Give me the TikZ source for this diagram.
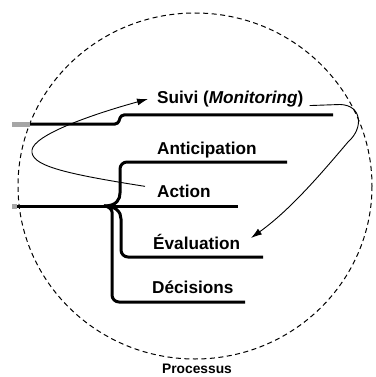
\documentclass[tikz,border=0pt]{standalone}
\usepackage{fontspec}
\setmainfont{Liberation Sans}
\usetikzlibrary{arrows.meta}
\begin{document}
\begin{tikzpicture}[x=1pt,y=-1pt,
  lbl/.style={font=\fontsize{17.2}{20}\selectfont\bfseries, inner sep=0pt, anchor=base west},
  branch/.style={line width=3pt, rounded corners=7pt},
  feed/.style={line width=5pt, gray!70},
  thinarr/.style={line width=0.9pt, -{Latex[length=11pt,width=7pt]}}]
\useasboundingbox (0,0) rectangle (375,377);
% process boundary
\draw[line width=1pt, dash pattern=on 5pt off 3.5pt] (195,186) ellipse [x radius=177, y radius=173];
% labels
\node[lbl] (suivi) at (157,104) {Suivi (\textit{Monitoring})};
\node[lbl] (antic) at (157,154) {Anticipation};
\node[lbl] (action) at (157,197.5) {Action};
\node[lbl] (eval) at (153,249) {Évaluation};
\node[lbl] (dec) at (152,293.5) {Décisions};
\node[font=\fontsize{13.8}{16}\selectfont\bfseries, inner sep=0pt, anchor=base] (proc) at (197,373) {Processus};
% coordinates
\coordinate (sin) at (12,124);
\coordinate (sa) at (30,124);
\coordinate (send) at (333,115);
\coordinate (min) at (12,206);
\coordinate (ma) at (17,206);
\coordinate (j) at (104,206);
\coordinate (mend) at (238,206);
\coordinate (aend) at (287,162);
\coordinate (eend) at (263,257);
\coordinate (dend) at (245,302);
% suivi line
\draw[feed] (sin) -- (sa);
\draw[line width=3pt, rounded corners=3pt] (sa) -- (118,124) -- (121,115) -- (send);
% main line
\draw[feed] (min) -- (ma);
\draw[line width=3pt] (ma) -- (mend);
% branches
\draw[branch] (j) .. controls (117,206) and (120,199) .. (120,186) -- (120,162) -- (aend);
\draw[branch] (j) .. controls (116,206) and (121,212) .. (121,226) -- (121,257) -- (eend);
\draw[branch] (j) .. controls (109,206) and (112,210) .. (112,219) -- (112,302) -- (dend);
% feedback arrows
\coordinate (atip) at (148,99);
\coordinate (etip) at (251,238);
\draw[thinarr] (action.west) ++(-12,-5) .. controls (60,173) and (30,165) .. (32,150) .. controls (34,135) and (90,115) .. (atip);
\draw[thinarr] (suivi.east) ++(6,6) -- (340,104.5) .. controls (362,105) and (364,128) .. (348,142) .. controls (320,175) and (290,210) .. (etip);
\end{tikzpicture}
\end{document}
